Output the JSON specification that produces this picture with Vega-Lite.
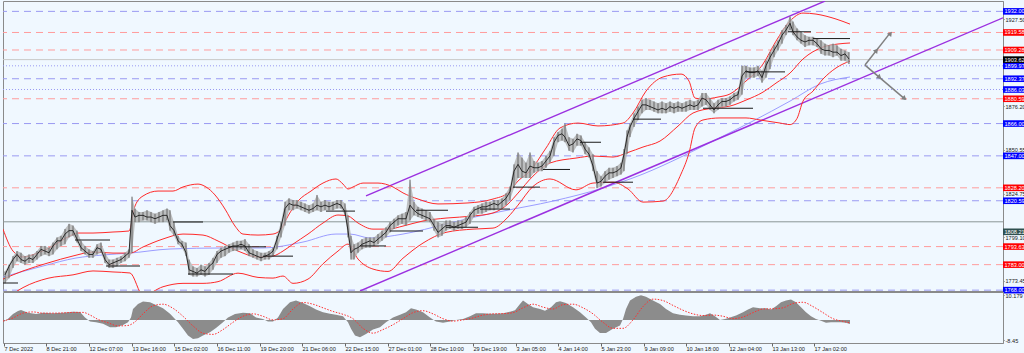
{
  "$schema": "https://vega.github.io/schema/vega-lite/v6.json",
  "background": "#F0F8FF",
  "padding": 0,
  "spacing": 1,
  "bounds": "flush",
  "config": {
    "view": {"stroke": "#8a8a8a", "fill": "#F0F8FF"},
    "axis": {"labelFont": "Liberation Sans", "labelFontSize": 5.6, "labelColor": "#222", "tickColor": "#666", "domainColor": "#8a8a8a", "grid": false},
    "text": {"font": "Liberation Sans"}
  },
  "datasets": {
    "levels": [
      {"p": 1932.00, "k": "blue", "t": "1932.00"},
      {"p": 1892.37, "k": "blue", "t": "1892.37"},
      {"p": 1866.00, "k": "blue", "t": "1866.00"},
      {"p": 1847.00, "k": "blue", "t": "1847.00"},
      {"p": 1820.59, "k": "blue", "t": "1820.59"},
      {"p": 1768.00, "k": "blue", "t": "1768.00"},
      {"p": 1899.97, "k": "bluedot", "t": "1899.97"},
      {"p": 1886.03, "k": "bluedot", "t": "1886.03"},
      {"p": 1919.58, "k": "red", "t": "1919.58"},
      {"p": 1909.28, "k": "red", "t": "1909.28"},
      {"p": 1880.59, "k": "red", "t": "1880.59"},
      {"p": 1828.20, "k": "red", "t": "1828.20"},
      {"p": 1793.63, "k": "red", "t": "1793.63"},
      {"p": 1783.00, "k": "red", "t": "1783.00"},
      {"p": 1903.62, "k": "price", "t": "1903.62"},
      {"p": 1808.21, "k": "dark", "t": "1808.21"}
    ],
    "bars": [
      {"x":2,"h":1779,"l":1772,"c":1777},{"x":6,"h":1783,"l":1775,"c":1782},{"x":10,"h":1788,"l":1781,"c":1786},{"x":14,"h":1791,"l":1785,"c":1789},
      {"x":18,"h":1790,"l":1784,"c":1786},{"x":22,"h":1788,"l":1783,"c":1785},{"x":26,"h":1789,"l":1784,"c":1787},{"x":30,"h":1789,"l":1784,"c":1786},
      {"x":34,"h":1791,"l":1786,"c":1789},{"x":38,"h":1794,"l":1788,"c":1792},{"x":42,"h":1794,"l":1789,"c":1791},{"x":46,"h":1793,"l":1788,"c":1790},
      {"x":50,"h":1796,"l":1789,"c":1794},{"x":54,"h":1799,"l":1792,"c":1797},{"x":58,"h":1800,"l":1794,"c":1797},{"x":62,"h":1804,"l":1795,"c":1801},
      {"x":66,"h":1807,"l":1799,"c":1803},{"x":70,"h":1806,"l":1800,"c":1803},{"x":74,"h":1803,"l":1796,"c":1798},{"x":78,"h":1797,"l":1791,"c":1793},
      {"x":82,"h":1794,"l":1789,"c":1791},{"x":86,"h":1792,"l":1787,"c":1789},{"x":90,"h":1791,"l":1787,"c":1789},{"x":94,"h":1795,"l":1789,"c":1793},
      {"x":98,"h":1796,"l":1790,"c":1792},{"x":102,"h":1790,"l":1784,"c":1786},{"x":106,"h":1786,"l":1781,"c":1783},{"x":110,"h":1786,"l":1781,"c":1784},
      {"x":114,"h":1787,"l":1782,"c":1785},{"x":118,"h":1788,"l":1784,"c":1786},{"x":122,"h":1790,"l":1785,"c":1788},{"x":126,"h":1792,"l":1787,"c":1790},
      {"x":129,"h":1823,"l":1790,"c":1815},{"x":132,"h":1816,"l":1808,"c":1811},{"x":136,"h":1814,"l":1808,"c":1812},{"x":140,"h":1814,"l":1809,"c":1812},
      {"x":144,"h":1815,"l":1809,"c":1811},{"x":148,"h":1814,"l":1808,"c":1811},{"x":152,"h":1813,"l":1807,"c":1810},{"x":156,"h":1814,"l":1808,"c":1811},
      {"x":160,"h":1815,"l":1808,"c":1812},{"x":164,"h":1816,"l":1809,"c":1812},{"x":167,"h":1815,"l":1803,"c":1806},{"x":171,"h":1808,"l":1800,"c":1803},
      {"x":175,"h":1800,"l":1795,"c":1797},{"x":179,"h":1797,"l":1793,"c":1795},{"x":183,"h":1796,"l":1788,"c":1790},{"x":186,"h":1786,"l":1777,"c":1780},
      {"x":190,"h":1782,"l":1776,"c":1779},{"x":194,"h":1781,"l":1776,"c":1778},{"x":198,"h":1783,"l":1777,"c":1780},{"x":202,"h":1782,"l":1776,"c":1779},
      {"x":206,"h":1784,"l":1777,"c":1782},{"x":210,"h":1787,"l":1780,"c":1784},{"x":214,"h":1791,"l":1784,"c":1789},{"x":218,"h":1793,"l":1787,"c":1791},
      {"x":222,"h":1794,"l":1788,"c":1792},{"x":226,"h":1795,"l":1790,"c":1793},{"x":230,"h":1796,"l":1791,"c":1794},{"x":234,"h":1797,"l":1791,"c":1794},
      {"x":238,"h":1797,"l":1792,"c":1795},{"x":242,"h":1798,"l":1791,"c":1794},{"x":246,"h":1795,"l":1788,"c":1790},{"x":250,"h":1792,"l":1787,"c":1789},
      {"x":254,"h":1791,"l":1786,"c":1788},{"x":258,"h":1790,"l":1785,"c":1787},{"x":262,"h":1790,"l":1786,"c":1788},{"x":266,"h":1791,"l":1786,"c":1789},
      {"x":270,"h":1793,"l":1788,"c":1791},{"x":274,"h":1800,"l":1792,"c":1798},{"x":278,"h":1808,"l":1799,"c":1805},{"x":282,"h":1820,"l":1806,"c":1816},
      {"x":286,"h":1822,"l":1815,"c":1819},{"x":290,"h":1821,"l":1815,"c":1818},{"x":294,"h":1821,"l":1816,"c":1818},{"x":298,"h":1820,"l":1815,"c":1817},
      {"x":302,"h":1819,"l":1814,"c":1816},{"x":306,"h":1818,"l":1813,"c":1815},{"x":310,"h":1819,"l":1814,"c":1816},{"x":314,"h":1824,"l":1815,"c":1818},
      {"x":318,"h":1820,"l":1814,"c":1817},{"x":322,"h":1821,"l":1815,"c":1818},{"x":326,"h":1820,"l":1815,"c":1817},{"x":330,"h":1820,"l":1815,"c":1818},
      {"x":334,"h":1821,"l":1816,"c":1819},{"x":338,"h":1821,"l":1816,"c":1818},{"x":342,"h":1819,"l":1812,"c":1814},{"x":345,"h":1812,"l":1799,"c":1803},
      {"x":348,"h":1800,"l":1786,"c":1790},{"x":351,"h":1795,"l":1786,"c":1792},{"x":355,"h":1796,"l":1790,"c":1793},{"x":359,"h":1798,"l":1792,"c":1795},
      {"x":363,"h":1799,"l":1793,"c":1796},{"x":367,"h":1799,"l":1793,"c":1797},{"x":371,"h":1799,"l":1794,"c":1796},{"x":375,"h":1801,"l":1795,"c":1798},
      {"x":379,"h":1803,"l":1797,"c":1800},{"x":383,"h":1805,"l":1799,"c":1802},{"x":387,"h":1808,"l":1802,"c":1806},{"x":391,"h":1810,"l":1804,"c":1808},
      {"x":395,"h":1812,"l":1806,"c":1810},{"x":399,"h":1813,"l":1807,"c":1810},{"x":403,"h":1814,"l":1806,"c":1810},{"x":407,"h":1833,"l":1809,"c":1818},
      {"x":411,"h":1820,"l":1812,"c":1815},{"x":415,"h":1817,"l":1811,"c":1813},{"x":419,"h":1816,"l":1810,"c":1812},{"x":423,"h":1815,"l":1809,"c":1811},
      {"x":427,"h":1814,"l":1808,"c":1810},{"x":431,"h":1810,"l":1803,"c":1806},{"x":435,"h":1808,"l":1799,"c":1802},{"x":439,"h":1807,"l":1800,"c":1804},
      {"x":443,"h":1809,"l":1803,"c":1806},{"x":447,"h":1809,"l":1804,"c":1806},{"x":451,"h":1808,"l":1803,"c":1805},{"x":455,"h":1809,"l":1804,"c":1806},
      {"x":459,"h":1809,"l":1804,"c":1807},{"x":463,"h":1811,"l":1805,"c":1808},{"x":467,"h":1814,"l":1807,"c":1812},{"x":471,"h":1817,"l":1811,"c":1815},
      {"x":475,"h":1818,"l":1813,"c":1816},{"x":479,"h":1819,"l":1813,"c":1817},{"x":483,"h":1820,"l":1814,"c":1817},{"x":487,"h":1820,"l":1815,"c":1818},
      {"x":491,"h":1821,"l":1815,"c":1819},{"x":495,"h":1821,"l":1816,"c":1818},{"x":499,"h":1822,"l":1816,"c":1820},{"x":503,"h":1825,"l":1818,"c":1822},
      {"x":507,"h":1829,"l":1821,"c":1826},{"x":511,"h":1842,"l":1828,"c":1838},{"x":515,"h":1849,"l":1834,"c":1842},{"x":519,"h":1846,"l":1834,"c":1838},
      {"x":523,"h":1843,"l":1834,"c":1837},{"x":527,"h":1849,"l":1834,"c":1841},{"x":531,"h":1844,"l":1837,"c":1840},{"x":535,"h":1843,"l":1838,"c":1840},
      {"x":539,"h":1844,"l":1838,"c":1841},{"x":543,"h":1847,"l":1840,"c":1844},{"x":547,"h":1850,"l":1843,"c":1847},{"x":551,"h":1858,"l":1847,"c":1855},
      {"x":555,"h":1861,"l":1855,"c":1859},{"x":559,"h":1863,"l":1856,"c":1860},{"x":562,"h":1866,"l":1855,"c":1858},{"x":566,"h":1858,"l":1850,"c":1853},
      {"x":570,"h":1857,"l":1849,"c":1854},{"x":574,"h":1860,"l":1853,"c":1857},{"x":578,"h":1859,"l":1853,"c":1856},{"x":582,"h":1855,"l":1848,"c":1851},
      {"x":586,"h":1852,"l":1846,"c":1848},{"x":590,"h":1848,"l":1838,"c":1841},{"x":594,"h":1838,"l":1828,"c":1831},{"x":598,"h":1835,"l":1829,"c":1832},
      {"x":602,"h":1838,"l":1831,"c":1835},{"x":606,"h":1840,"l":1833,"c":1837},{"x":610,"h":1840,"l":1834,"c":1837},{"x":614,"h":1841,"l":1835,"c":1838},
      {"x":618,"h":1843,"l":1836,"c":1840},{"x":621,"h":1851,"l":1838,"c":1848},{"x":624,"h":1862,"l":1848,"c":1858},{"x":627,"h":1866,"l":1858,"c":1864},
      {"x":631,"h":1872,"l":1864,"c":1869},{"x":635,"h":1876,"l":1868,"c":1873},{"x":639,"h":1880,"l":1872,"c":1877},{"x":643,"h":1881,"l":1874,"c":1877},
      {"x":647,"h":1880,"l":1874,"c":1876},{"x":651,"h":1879,"l":1873,"c":1875},{"x":655,"h":1878,"l":1872,"c":1874},{"x":659,"h":1879,"l":1872,"c":1875},
      {"x":663,"h":1878,"l":1872,"c":1874},{"x":667,"h":1879,"l":1873,"c":1876},{"x":671,"h":1878,"l":1872,"c":1875},{"x":675,"h":1879,"l":1873,"c":1876},
      {"x":679,"h":1878,"l":1873,"c":1875},{"x":683,"h":1879,"l":1873,"c":1876},{"x":687,"h":1880,"l":1874,"c":1877},{"x":691,"h":1879,"l":1874,"c":1876},
      {"x":695,"h":1880,"l":1874,"c":1877},{"x":699,"h":1884,"l":1876,"c":1881},{"x":703,"h":1884,"l":1877,"c":1880},{"x":707,"h":1881,"l":1874,"c":1877},
      {"x":711,"h":1878,"l":1872,"c":1874},{"x":715,"h":1880,"l":1874,"c":1877},{"x":719,"h":1881,"l":1876,"c":1879},{"x":723,"h":1881,"l":1876,"c":1879},
      {"x":727,"h":1882,"l":1877,"c":1880},{"x":731,"h":1884,"l":1879,"c":1882},{"x":735,"h":1885,"l":1880,"c":1883},{"x":739,"h":1900,"l":1883,"c":1894},
      {"x":743,"h":1900,"l":1893,"c":1897},{"x":747,"h":1899,"l":1893,"c":1896},{"x":751,"h":1899,"l":1893,"c":1896},{"x":755,"h":1900,"l":1894,"c":1897},
      {"x":759,"h":1897,"l":1890,"c":1893},{"x":763,"h":1903,"l":1893,"c":1900},{"x":767,"h":1908,"l":1898,"c":1905},{"x":771,"h":1912,"l":1905,"c":1909},
      {"x":775,"h":1915,"l":1909,"c":1913},{"x":779,"h":1921,"l":1913,"c":1918},{"x":783,"h":1924,"l":1918,"c":1921},{"x":787,"h":1929,"l":1921,"c":1925},
      {"x":790,"h":1926,"l":1918,"c":1920},{"x":794,"h":1922,"l":1915,"c":1917},{"x":798,"h":1920,"l":1913,"c":1915},{"x":802,"h":1918,"l":1911,"c":1914},
      {"x":806,"h":1917,"l":1912,"c":1915},{"x":810,"h":1917,"l":1912,"c":1915},{"x":814,"h":1916,"l":1911,"c":1913},{"x":818,"h":1915,"l":1907,"c":1910},
      {"x":822,"h":1913,"l":1906,"c":1909},{"x":826,"h":1912,"l":1906,"c":1909},{"x":830,"h":1913,"l":1905,"c":1908},{"x":834,"h":1912,"l":1906,"c":1908},
      {"x":838,"h":1910,"l":1903,"c":1906},{"x":842,"h":1909,"l":1903,"c":1907},{"x":846,"h":1908,"l":1901,"c":1904}
    ],
    "bands": [
      {"b":"u","x":0,"p":1803.9},{"b":"u","x":10,"p":1791.0},{"b":"u","x":20,"p":1787.5},{"b":"u","x":35,"p":1789.9},{"b":"u","x":50,"p":1794.0},
      {"b":"u","x":65,"p":1799.3},{"b":"u","x":75,"p":1801.6},{"b":"u","x":90,"p":1801.6},{"b":"u","x":110,"p":1802.2},{"b":"u","x":126,"p":1802.8},
      {"b":"u","x":132,"p":1817.5},{"b":"u","x":140,"p":1823.4},{"b":"u","x":155,"p":1826.3},{"b":"u","x":170,"p":1826.3},{"b":"u","x":180,"p":1828.7},
      {"b":"u","x":195,"p":1830.4},{"b":"u","x":203,"p":1828.7},{"b":"u","x":212,"p":1824.0},{"b":"u","x":222,"p":1815.7},{"b":"u","x":232,"p":1805.7},
      {"b":"u","x":240,"p":1801.0},{"b":"u","x":255,"p":1800.4},{"b":"u","x":270,"p":1801.0},{"b":"u","x":278,"p":1803.9},{"b":"u","x":285,"p":1811.6},
      {"b":"u","x":295,"p":1820.4},{"b":"u","x":308,"p":1826.3},{"b":"u","x":320,"p":1831.0},{"b":"u","x":333,"p":1833.4},{"b":"u","x":340,"p":1830.4},
      {"b":"u","x":345,"p":1827.5},{"b":"u","x":350,"p":1828.7},{"b":"u","x":360,"p":1831.0},{"b":"u","x":375,"p":1831.0},{"b":"u","x":390,"p":1828.7},
      {"b":"u","x":400,"p":1825.2},{"b":"u","x":415,"p":1821.6},{"b":"u","x":435,"p":1818.7},{"b":"u","x":465,"p":1819.3},{"b":"u","x":490,"p":1821.6},
      {"b":"u","x":505,"p":1825.2},{"b":"u","x":515,"p":1832.2},{"b":"u","x":527,"p":1838.1},{"b":"u","x":543,"p":1851.6},{"b":"u","x":557,"p":1863.4},
      {"b":"u","x":575,"p":1866.3},{"b":"u","x":595,"p":1864.6},{"b":"u","x":620,"p":1866.3},{"b":"u","x":630,"p":1872.2},{"b":"u","x":643,"p":1885.1},
      {"b":"u","x":660,"p":1893.4},{"b":"u","x":678,"p":1895.1},{"b":"u","x":686,"p":1891.0},{"b":"u","x":692,"p":1881.0},{"b":"u","x":700,"p":1880.4},
      {"b":"u","x":715,"p":1881.6},{"b":"u","x":727,"p":1883.4},{"b":"u","x":743,"p":1891.0},{"b":"u","x":760,"p":1901.0},{"b":"u","x":773,"p":1914.5},
      {"b":"u","x":787,"p":1926.3},{"b":"u","x":800,"p":1931.0},{"b":"u","x":813,"p":1930.4},{"b":"u","x":833,"p":1927.5},{"b":"u","x":847,"p":1924.5},
      {"b":"m","x":0,"p":1774.5},{"b":"m","x":20,"p":1779.3},{"b":"m","x":45,"p":1784.0},{"b":"m","x":70,"p":1788.1},{"b":"m","x":90,"p":1790.4},
      {"b":"m","x":110,"p":1789.8},{"b":"m","x":127,"p":1789.8},{"b":"m","x":140,"p":1793.4},{"b":"m","x":160,"p":1798.1},{"b":"m","x":180,"p":1801.0},
      {"b":"m","x":200,"p":1800.4},{"b":"m","x":215,"p":1796.9},{"b":"m","x":235,"p":1791.0},{"b":"m","x":255,"p":1787.5},{"b":"m","x":270,"p":1788.1},
      {"b":"m","x":280,"p":1791.0},{"b":"m","x":290,"p":1795.1},{"b":"m","x":305,"p":1801.0},{"b":"m","x":320,"p":1807.5},{"b":"m","x":335,"p":1812.2},
      {"b":"m","x":345,"p":1811.6},{"b":"m","x":355,"p":1807.5},{"b":"m","x":370,"p":1803.9},{"b":"m","x":385,"p":1803.9},{"b":"m","x":400,"p":1805.7},
      {"b":"m","x":420,"p":1808.7},{"b":"m","x":443,"p":1810.4},{"b":"m","x":470,"p":1811.6},{"b":"m","x":490,"p":1813.4},{"b":"m","x":505,"p":1818.7},
      {"b":"m","x":515,"p":1825.1},{"b":"m","x":530,"p":1835.1},{"b":"m","x":547,"p":1842.8},{"b":"m","x":573,"p":1845.7},{"b":"m","x":590,"p":1846.9},
      {"b":"m","x":610,"p":1846.3},{"b":"m","x":625,"p":1849.0},{"b":"m","x":640,"p":1852.2},{"b":"m","x":657,"p":1855.7},{"b":"m","x":675,"p":1864.5},
      {"b":"m","x":690,"p":1872.2},{"b":"m","x":710,"p":1875.1},{"b":"m","x":727,"p":1876.3},{"b":"m","x":743,"p":1879.8},{"b":"m","x":760,"p":1884.5},
      {"b":"m","x":773,"p":1889.8},{"b":"m","x":787,"p":1895.7},{"b":"m","x":800,"p":1904.0},{"b":"m","x":820,"p":1911.0},{"b":"m","x":835,"p":1912.8},
      {"b":"m","x":847,"p":1913.4},
      {"b":"l","x":0,"p":1761.6},{"b":"l","x":20,"p":1769.5},{"b":"l","x":45,"p":1775.0},{"b":"l","x":70,"p":1777.0},{"b":"l","x":90,"p":1779.3},
      {"b":"l","x":110,"p":1778.7},{"b":"l","x":127,"p":1778.1},{"b":"l","x":140,"p":1765.0},{"b":"l","x":160,"p":1770.0},{"b":"l","x":180,"p":1772.0},
      {"b":"l","x":200,"p":1772.0},{"b":"l","x":215,"p":1773.0},{"b":"l","x":235,"p":1778.0},{"b":"l","x":255,"p":1775.5},{"b":"l","x":270,"p":1775.1},
      {"b":"l","x":280,"p":1776.3},{"b":"l","x":290,"p":1772.0},{"b":"l","x":305,"p":1774.5},{"b":"l","x":320,"p":1783.5},{"b":"l","x":335,"p":1791.0},
      {"b":"l","x":345,"p":1795.1},{"b":"l","x":355,"p":1786.3},{"b":"l","x":370,"p":1780.4},{"b":"l","x":385,"p":1779.0},{"b":"l","x":400,"p":1786.8},
      {"b":"l","x":420,"p":1795.7},{"b":"l","x":443,"p":1802.0},{"b":"l","x":470,"p":1803.9},{"b":"l","x":490,"p":1804.5},{"b":"l","x":505,"p":1811.0},
      {"b":"l","x":515,"p":1818.0},{"b":"l","x":530,"p":1829.0},{"b":"l","x":547,"p":1833.4},{"b":"l","x":573,"p":1827.0},{"b":"l","x":590,"p":1831.0},
      {"b":"l","x":610,"p":1831.5},{"b":"l","x":625,"p":1827.5},{"b":"l","x":640,"p":1819.8},{"b":"l","x":660,"p":1820.4},{"b":"l","x":678,"p":1836.3},
      {"b":"l","x":686,"p":1848.7},{"b":"l","x":692,"p":1863.4},{"b":"l","x":700,"p":1868.1},{"b":"l","x":717,"p":1869.3},{"b":"l","x":743,"p":1869.3},
      {"b":"l","x":757,"p":1868.1},{"b":"l","x":777,"p":1866.3},{"b":"l","x":787,"p":1865.4},{"b":"l","x":794,"p":1869.0},{"b":"l","x":800,"p":1879.2},
      {"b":"l","x":810,"p":1885.1},{"b":"l","x":820,"p":1892.2},{"b":"l","x":833,"p":1898.7},{"b":"l","x":847,"p":1902.8}
    ],
    "ma": [
      {"x":0,"p":1775.7},{"x":40,"p":1782.2},{"x":73,"p":1786.9},{"x":100,"p":1788.7},{"x":127,"p":1789.8},{"x":167,"p":1792.2},
      {"x":220,"p":1792.8},{"x":260,"p":1792.8},{"x":300,"p":1796.3},{"x":333,"p":1801.0},{"x":347,"p":1801.0},{"x":367,"p":1798.7},
      {"x":400,"p":1801.0},{"x":443,"p":1806.9},{"x":467,"p":1810.4},{"x":500,"p":1814.5},{"x":550,"p":1820.4},{"x":600,"p":1828.1},
      {"x":640,"p":1836.3},{"x":680,"p":1846.9},{"x":710,"p":1855.7},{"x":750,"p":1867.5},{"x":787,"p":1879.2},{"x":817,"p":1889.2},{"x":847,"p":1893.4}
    ],
    "segs": [
      {"x":0,"x2":15,"p":1772.2},{"x":72,"x2":107,"p":1797.5},{"x":103,"x2":137,"p":1782.2},{"x":170,"x2":200,"p":1808.1},
      {"x":185,"x2":230,"p":1777.5},{"x":225,"x2":263,"p":1793.5},{"x":260,"x2":290,"p":1788.0},{"x":323,"x2":352,"p":1814.5},
      {"x":357,"x2":383,"p":1794.0},{"x":387,"x2":420,"p":1802.8},{"x":413,"x2":445,"p":1815.0},{"x":443,"x2":475,"p":1805.0},
      {"x":477,"x2":507,"p":1815.7},{"x":510,"x2":537,"p":1828.6},{"x":540,"x2":567,"p":1839.0},{"x":577,"x2":598,"p":1855.0},
      {"x":600,"x2":630,"p":1831.5},{"x":630,"x2":658,"p":1868.6},{"x":700,"x2":750,"p":1875.0},{"x":743,"x2":782,"p":1896.4},
      {"x":785,"x2":808,"p":1920.0},{"x":810,"x2":847,"p":1916.0}
    ],
    "purple": [
      {"line":"up","x":363,"p":1823.4},{"line":"up","x":822,"p":1938.06},
      {"line":"lo","x":357,"p":1767.5},{"line":"lo","x":1000,"p":1928.2}
    ],
    "arrows": [
      {"a":"up","x":862,"p":1900.4},{"a":"up","x":887,"p":1919.2},
      {"a":"dn","x":862,"p":1900.4},{"a":"dn","x":902,"p":1880.4}
    ],
    "headsUp": [{"x":887,"p":1918.6},{"x":873,"p":1908.7}],
    "headsDn": [{"x":901,"p":1881.0},{"x":876,"p":1893.4}],
    "macd": [
      {"x":0,"v":-1.0},{"x":5,"v":0.5},{"x":10,"v":2.4},{"x":15,"v":3.7},{"x":18,"v":4.1},{"x":25,"v":3.0},{"x":33,"v":2.4},{"x":40,"v":3.0},
      {"x":50,"v":2.7},{"x":60,"v":3.0},{"x":70,"v":3.4},{"x":77,"v":3.3},{"x":82,"v":1.0},{"x":87,"v":-0.7},{"x":93,"v":-1.0},{"x":100,"v":-1.6},
      {"x":107,"v":-3.0},{"x":113,"v":-3.0},{"x":120,"v":-2.1},{"x":125,"v":-1.0},{"x":128,"v":1.0},{"x":130,"v":4.5},{"x":135,"v":6.6},{"x":140,"v":7.6},
      {"x":147,"v":7.3},{"x":153,"v":6.2},{"x":160,"v":4.8},{"x":167,"v":2.5},{"x":172,"v":0.4},{"x":175,"v":-1.0},{"x":180,"v":-3.7},{"x":185,"v":-6.5},
      {"x":190,"v":-7.9},{"x":195,"v":-7.6},{"x":200,"v":-6.5},{"x":207,"v":-5.1},{"x":213,"v":-3.4},{"x":220,"v":-1.0},{"x":225,"v":1.0},{"x":232,"v":2.4},
      {"x":240,"v":3.0},{"x":247,"v":2.7},{"x":253,"v":1.0},{"x":260,"v":0.4},{"x":265,"v":-0.7},{"x":270,"v":-0.7},{"x":275,"v":1.0},{"x":280,"v":4.5},
      {"x":287,"v":7.3},{"x":293,"v":8.0},{"x":300,"v":7.0},{"x":307,"v":5.6},{"x":313,"v":4.3},{"x":320,"v":3.2},{"x":327,"v":2.5},{"x":333,"v":2.1},
      {"x":340,"v":1.5},{"x":345,"v":-1.0},{"x":348,"v":-3.7},{"x":352,"v":-6.5},{"x":357,"v":-7.2},{"x":363,"v":-5.8},{"x":370,"v":-4.0},{"x":377,"v":-3.0},
      {"x":383,"v":-1.0},{"x":390,"v":1.0},{"x":397,"v":2.1},{"x":403,"v":3.2},{"x":408,"v":4.8},{"x":413,"v":4.3},{"x":420,"v":3.2},{"x":427,"v":1.0},
      {"x":433,"v":-0.7},{"x":440,"v":-1.2},{"x":447,"v":-0.7},{"x":453,"v":0.0},{"x":460,"v":0.4},{"x":467,"v":1.5},{"x":473,"v":2.8},{"x":480,"v":2.8},
      {"x":487,"v":2.5},{"x":493,"v":2.5},{"x":500,"v":2.8},{"x":507,"v":3.4},{"x":512,"v":4.0},{"x":517,"v":6.6},{"x":520,"v":8.0},{"x":525,"v":6.6},
      {"x":530,"v":5.2},{"x":537,"v":4.5},{"x":542,"v":3.8},{"x":548,"v":5.2},{"x":553,"v":7.3},{"x":557,"v":7.7},{"x":563,"v":7.0},{"x":570,"v":5.2},
      {"x":577,"v":3.2},{"x":583,"v":1.0},{"x":588,"v":-1.0},{"x":592,"v":-3.7},{"x":597,"v":-5.4},{"x":603,"v":-5.4},{"x":610,"v":-3.7},{"x":617,"v":-2.3},
      {"x":620,"v":0.4},{"x":623,"v":4.5},{"x":627,"v":8.0},{"x":633,"v":9.6},{"x":638,"v":10.2},{"x":643,"v":9.6},{"x":650,"v":8.0},{"x":657,"v":6.6},
      {"x":663,"v":4.5},{"x":670,"v":2.8},{"x":677,"v":2.1},{"x":683,"v":1.8},{"x":690,"v":1.5},{"x":697,"v":1.5},{"x":703,"v":2.1},{"x":707,"v":2.8},
      {"x":712,"v":1.5},{"x":717,"v":0.0},{"x":722,"v":0.4},{"x":727,"v":1.0},{"x":733,"v":1.8},{"x":740,"v":3.2},{"x":745,"v":4.3},{"x":750,"v":5.2},
      {"x":757,"v":4.8},{"x":763,"v":4.8},{"x":768,"v":4.3},{"x":773,"v":5.6},{"x":778,"v":7.3},{"x":783,"v":8.0},{"x":788,"v":8.4},{"x":793,"v":7.3},
      {"x":798,"v":5.2},{"x":803,"v":3.2},{"x":808,"v":1.5},{"x":813,"v":0.4},{"x":818,"v":-0.4},{"x":823,"v":-1.2},{"x":828,"v":-1.0},{"x":833,"v":-1.0},
      {"x":838,"v":-1.0},{"x":843,"v":-1.2},{"x":847,"v":-1.7}
    ],
    "signal": [
      {"x":0,"v":-0.5},{"x":10,"v":0.8},{"x":20,"v":2.8},{"x":30,"v":3.3},{"x":40,"v":2.8},{"x":50,"v":2.8},{"x":60,"v":2.9},{"x":70,"v":3.1},
      {"x":80,"v":3.1},{"x":88,"v":1.8},{"x":95,"v":0.2},{"x":105,"v":-1.2},{"x":115,"v":-2.5},{"x":125,"v":-2.3},{"x":132,"v":-0.8},{"x":140,"v":2.5},
      {"x":150,"v":5.8},{"x":160,"v":6.5},{"x":170,"v":4.8},{"x":180,"v":1.5},{"x":190,"v":-2.5},{"x":200,"v":-5.5},{"x":210,"v":-6.0},{"x":220,"v":-4.0},
      {"x":230,"v":-1.0},{"x":240,"v":1.5},{"x":250,"v":2.5},{"x":260,"v":1.5},{"x":270,"v":0.0},{"x":280,"v":0.5},{"x":290,"v":4.5},{"x":300,"v":7.2},
      {"x":310,"v":6.5},{"x":320,"v":5.0},{"x":330,"v":3.5},{"x":340,"v":2.3},{"x":350,"v":0.5},{"x":360,"v":-3.5},{"x":370,"v":-5.5},{"x":380,"v":-4.0},
      {"x":390,"v":-2.0},{"x":400,"v":0.5},{"x":410,"v":3.0},{"x":420,"v":3.8},{"x":430,"v":2.5},{"x":440,"v":0.5},{"x":450,"v":-0.5},{"x":460,"v":0.0},
      {"x":470,"v":0.8},{"x":480,"v":2.0},{"x":490,"v":2.5},{"x":500,"v":2.6},{"x":510,"v":3.0},{"x":520,"v":5.0},{"x":530,"v":6.5},{"x":540,"v":5.3},
      {"x":550,"v":4.5},{"x":560,"v":6.3},{"x":570,"v":6.5},{"x":580,"v":5.0},{"x":590,"v":2.5},{"x":600,"v":-1.0},{"x":610,"v":-3.5},{"x":620,"v":-3.5},
      {"x":630,"v":0.0},{"x":640,"v":5.5},{"x":650,"v":8.6},{"x":660,"v":8.0},{"x":670,"v":6.0},{"x":680,"v":4.0},{"x":690,"v":2.5},{"x":700,"v":1.8},
      {"x":710,"v":2.0},{"x":720,"v":1.5},{"x":730,"v":0.5},{"x":740,"v":1.2},{"x":750,"v":3.0},{"x":760,"v":4.5},{"x":770,"v":4.6},{"x":780,"v":5.0},
      {"x":790,"v":6.8},{"x":800,"v":7.3},{"x":810,"v":5.5},{"x":820,"v":3.0},{"x":830,"v":0.5},{"x":840,"v":-0.6},{"x":847,"v":-1.26}
    ]
  },
  "vconcat": [
    {
      "width": 1000,
      "height": 290,
      "layer": [
        {
          "data": {"name": "levels"},
          "transform": [{"filter": "datum.k == 'blue'"}],
          "mark": {"type": "rule", "stroke": "#9a9af2", "strokeWidth": 1, "strokeDash": [7, 5]},
          "encoding": {
            "y": {"field": "p", "type": "quantitative", "scale": {"domain": [1767.5, 1938.1], "nice": false, "zero": false},
              "axis": {"orient": "right", "title": null, "values": [1927.5, 1914.6, 1901.7, 1888.95, 1876.2, 1863.3, 1850.55, 1837.65, 1824.75, 1812.0, 1799.1, 1786.35, 1773.45],
                "format": ".2f", "labelAlign": "left", "labelPadding": 1, "tickSize": 1, "domain": true, "labelFlush": false, "labelOverlap": false}}
          }
        },
        {
          "data": {"name": "levels"},
          "transform": [{"filter": "datum.k == 'bluedot'"}],
          "mark": {"type": "rule", "stroke": "#9a9af2", "strokeWidth": 1, "strokeDash": [1, 2]},
          "encoding": {"y": {"field": "p", "type": "quantitative", "scale": {"domain": [1767.5, 1938.1]}, "axis": {"title": null}}}
        },
        {
          "data": {"name": "levels"},
          "transform": [{"filter": "datum.k == 'red'"}],
          "mark": {"type": "rule", "stroke": "#ff9c9c", "strokeWidth": 1, "strokeDash": [7, 5]},
          "encoding": {"y": {"field": "p", "type": "quantitative", "scale": {"domain": [1767.5, 1938.1]}, "axis": {"title": null}}}
        },
        {
          "data": {"name": "levels"},
          "transform": [{"filter": "datum.k == 'price'"}],
          "mark": {"type": "rule", "stroke": "#c8c8c8", "strokeWidth": 1},
          "encoding": {"y": {"field": "p", "type": "quantitative", "scale": {"domain": [1767.5, 1938.1]}, "axis": {"title": null}}}
        },
        {
          "data": {"name": "levels"},
          "transform": [{"filter": "datum.k == 'dark'"}],
          "mark": {"type": "rule", "stroke": "#8a9696", "strokeWidth": 1},
          "encoding": {"y": {"field": "p", "type": "quantitative", "scale": {"domain": [1767.5, 1938.1]}, "axis": {"title": null}}}
        },
        {
          "data": {"name": "ma"},
          "mark": {"type": "line", "stroke": "#8c8cff", "strokeWidth": 1, "interpolate": "monotone", "clip": true, "opacity": 0.85},
          "encoding": {
            "x": {"field": "x", "type": "quantitative", "scale": {"domain": [0, 1000], "nice": false, "zero": false}, "axis": null},
            "y": {"field": "p", "type": "quantitative", "scale": {"domain": [1767.5, 1938.1]}, "axis": {"title": null}}
          }
        },
        {
          "data": {"name": "purple"},
          "mark": {"type": "line", "stroke": "#9b30e0", "strokeWidth": 1.4, "clip": true},
          "encoding": {
            "x": {"field": "x", "type": "quantitative", "scale": {"domain": [0, 1000]}, "axis": null},
            "y": {"field": "p", "type": "quantitative", "scale": {"domain": [1767.5, 1938.1]}, "axis": {"title": null}},
            "detail": {"field": "line"}
          }
        },
        {
          "data": {"name": "bands"},
          "mark": {"type": "line", "stroke": "#ff2a2a", "strokeWidth": 1, "interpolate": "monotone", "clip": true},
          "encoding": {
            "x": {"field": "x", "type": "quantitative", "scale": {"domain": [0, 1000]}, "axis": null},
            "y": {"field": "p", "type": "quantitative", "scale": {"domain": [1767.5, 1938.1]}, "axis": {"title": null}},
            "detail": {"field": "b"}
          }
        },
        {
          "data": {"name": "bars"},
          "mark": {"type": "area", "color": "#b0b0b0", "opacity": 0.8, "clip": true},
          "encoding": {
            "x": {"field": "x", "type": "quantitative", "scale": {"domain": [0, 1000]}, "axis": null},
            "y": {"field": "l", "type": "quantitative", "scale": {"domain": [1767.5, 1938.1]}, "axis": {"title": null}},
            "y2": {"field": "h"}
          }
        },
        {
          "data": {"name": "bars"},
          "mark": {"type": "rule", "stroke": "#666666", "strokeWidth": 1, "clip": true},
          "encoding": {
            "x": {"field": "x", "type": "quantitative", "scale": {"domain": [0, 1000]}, "axis": null},
            "y": {"field": "l", "type": "quantitative", "scale": {"domain": [1767.5, 1938.1]}, "axis": {"title": null}},
            "y2": {"field": "h"}
          }
        },
        {
          "data": {"name": "bars"},
          "mark": {"type": "line", "stroke": "#2a2a2a", "strokeWidth": 1, "clip": true},
          "encoding": {
            "x": {"field": "x", "type": "quantitative", "scale": {"domain": [0, 1000]}, "axis": null},
            "y": {"field": "c", "type": "quantitative", "scale": {"domain": [1767.5, 1938.1]}, "axis": {"title": null}}
          }
        },
        {
          "data": {"name": "segs"},
          "mark": {"type": "rule", "stroke": "#1a1a1a", "strokeWidth": 1},
          "encoding": {
            "x": {"field": "x", "type": "quantitative", "scale": {"domain": [0, 1000]}, "axis": null},
            "x2": {"field": "x2"},
            "y": {"field": "p", "type": "quantitative", "scale": {"domain": [1767.5, 1938.1]}, "axis": {"title": null}}
          }
        },
        {
          "data": {"name": "arrows"},
          "mark": {"type": "line", "stroke": "#808080", "strokeWidth": 1.5},
          "encoding": {
            "x": {"field": "x", "type": "quantitative", "scale": {"domain": [0, 1000]}, "axis": null},
            "y": {"field": "p", "type": "quantitative", "scale": {"domain": [1767.5, 1938.1]}, "axis": {"title": null}},
            "detail": {"field": "a"}
          }
        },
        {
          "data": {"name": "headsUp"},
          "mark": {"type": "point", "shape": "triangle", "filled": true, "color": "#808080", "size": 30, "angle": 38, "opacity": 1},
          "encoding": {
            "x": {"field": "x", "type": "quantitative", "scale": {"domain": [0, 1000]}, "axis": null},
            "y": {"field": "p", "type": "quantitative", "scale": {"domain": [1767.5, 1938.1]}, "axis": {"title": null}}
          }
        },
        {
          "data": {"name": "headsDn"},
          "mark": {"type": "point", "shape": "triangle", "filled": true, "color": "#808080", "size": 30, "angle": 130, "opacity": 1},
          "encoding": {
            "x": {"field": "x", "type": "quantitative", "scale": {"domain": [0, 1000]}, "axis": null},
            "y": {"field": "p", "type": "quantitative", "scale": {"domain": [1767.5, 1938.1]}, "axis": {"title": null}}
          }
        },
        {
          "data": {"name": "levels"},
          "transform": [{"filter": "datum.k != 'dark'"}],
          "mark": {"type": "point", "shape": "M-1.833,-0.55H1.833V0.55H-1.833Z", "size": 144, "filled": true, "opacity": 1, "strokeWidth": 0},
          "encoding": {
            "x": {"datum": 1011, "type": "quantitative", "scale": {"domain": [0, 1000]}, "axis": null},
            "y": {"field": "p", "type": "quantitative", "scale": {"domain": [1767.5, 1938.1]}, "axis": {"title": null}},
            "color": {"field": "k", "type": "nominal", "scale": {"domain": ["blue", "bluedot", "red", "price", "dark"], "range": ["#0000ff", "#0000ff", "#ff0000", "#000000", "#2f4f4f"]}, "legend": null}
          }
        },
        {
          "data": {"name": "levels"},
          "transform": [{"filter": "datum.k == 'dark'"}],
          "mark": {"type": "point", "shape": "M-1.833,-0.55H1.833V0.55H-1.833Z", "size": 144, "filled": true, "opacity": 1, "strokeWidth": 0, "color": "#2f4f4f", "yOffset": 10},
          "encoding": {
            "x": {"datum": 1011, "type": "quantitative", "scale": {"domain": [0, 1000]}, "axis": null},
            "y": {"field": "p", "type": "quantitative", "scale": {"domain": [1767.5, 1938.1]}, "axis": {"title": null}}
          }
        },
        {
          "data": {"name": "levels"},
          "transform": [{"filter": "datum.k != 'dark'"}],
          "mark": {"type": "text", "align": "left", "baseline": "middle", "fontSize": 5.6, "color": "#ffffff", "font": "Liberation Sans"},
          "encoding": {
            "x": {"datum": 1001.5, "type": "quantitative", "scale": {"domain": [0, 1000]}, "axis": null},
            "y": {"field": "p", "type": "quantitative", "scale": {"domain": [1767.5, 1938.1]}, "axis": {"title": null}},
            "text": {"field": "t"}
          }
        },
        {
          "data": {"name": "levels"},
          "transform": [{"filter": "datum.k == 'dark'"}],
          "mark": {"type": "text", "align": "left", "baseline": "middle", "fontSize": 5.6, "color": "#ffffff", "font": "Liberation Sans", "yOffset": 10},
          "encoding": {
            "x": {"datum": 1001.5, "type": "quantitative", "scale": {"domain": [0, 1000]}, "axis": null},
            "y": {"field": "p", "type": "quantitative", "scale": {"domain": [1767.5, 1938.1]}, "axis": {"title": null}},
            "text": {"field": "t"}
          }
        },
        {
          "mark": {"type": "text", "align": "left", "baseline": "middle", "fontSize": 6.5, "color": "#111111", "font": "Liberation Sans"},
          "encoding": {
            "x": {"datum": 2, "type": "quantitative", "scale": {"domain": [0, 1000]}, "axis": null},
            "y": {"datum": 1935.3, "type": "quantitative", "scale": {"domain": [1767.5, 1938.1]}, "axis": {"title": null}},
            "text": {"value": "▼ XAUUSD,H1  1904.06 1905.36 1902.74 1903.62"}
          }
        }
      ]
    },
    {
      "width": 1000,
      "height": 51,
      "layer": [
        {
          "data": {"name": "macd"},
          "mark": {"type": "area", "color": "#8c8c8c", "opacity": 1},
          "encoding": {
            "x": {"field": "x", "type": "quantitative", "scale": {"domain": [0, 1000], "nice": false, "zero": false},
              "axis": {"orient": "bottom", "title": null, "values": [1, 43, 86, 129, 171, 214, 257, 299, 342, 385, 427, 470, 513, 555, 598, 641, 683, 726, 769, 811],
                "labelExpr": "['7 Dec 2022','8 Dec 21:00','12 Dec 07:00','13 Dec 16:00','15 Dec 02:00','16 Dec 11:00','19 Dec 20:00','21 Dec 06:00','22 Dec 15:00','27 Dec 01:00','28 Dec 10:00','29 Dec 19:00','3 Jan 05:00','4 Jan 14:00','5 Jan 23:00','9 Jan 09:00','10 Jan 18:00','12 Jan 04:00','13 Jan 13:00','17 Jan 02:00'][indexof([1,43,86,129,171,214,257,299,342,385,427,470,513,555,598,641,683,726,769,811], datum.value)]",
                "labelAlign": "left", "labelBaseline": "top", "labelPadding": 0, "labelDx": 1, "tickSize": 3, "domain": false, "labelFlush": false, "labelOverlap": false}},
            "y": {"field": "v", "type": "quantitative", "scale": {"domain": [-9.57, 11.55], "nice": false, "zero": false},
              "axis": {"orient": "right", "title": null, "values": [10.179, 0, -8.45],
                "labelExpr": "datum.value == 0 ? '0.00' : (datum.value > 5 ? '10.179' : '-8.45')",
                "labelAlign": "left", "labelPadding": 1, "tickSize": 1, "domain": true, "labelFlush": false, "labelOverlap": false}},
            "y2": {"datum": 0}
          }
        },
        {
          "data": {"name": "signal"},
          "mark": {"type": "line", "stroke": "#ff3030", "strokeWidth": 1, "strokeDash": [1.5, 1.5], "interpolate": "monotone"},
          "encoding": {
            "x": {"field": "x", "type": "quantitative", "scale": {"domain": [0, 1000]}, "axis": {"title": null}},
            "y": {"field": "v", "type": "quantitative", "scale": {"domain": [-9.57, 11.55]}, "axis": {"title": null}}
          }
        },
        {
          "mark": {"type": "text", "align": "left", "baseline": "middle", "fontSize": 6.5, "color": "#111111", "font": "Liberation Sans"},
          "encoding": {
            "x": {"datum": 2, "type": "quantitative", "scale": {"domain": [0, 1000]}, "axis": {"title": null}},
            "y": {"datum": 9.6, "type": "quantitative", "scale": {"domain": [-9.57, 11.55]}, "axis": {"title": null}},
            "text": {"value": "MACD(12,26,9) -1.693 -1.261"}
          }
        }
      ]
    }
  ]
}
